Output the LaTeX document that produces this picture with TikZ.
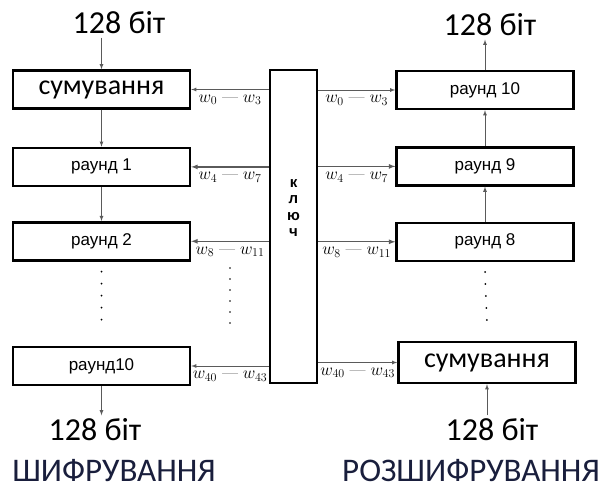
\documentclass[tikz,border=0pt]{standalone}
\usepackage{fontspec}
\usepackage{amsmath}
\usepackage{tikz}
\usetikzlibrary{arrows,positioning}
\newfontfamily\calfont{Carlito}
\newfontfamily\arfont{Liberation Sans}
\definecolor{gray40}{RGB}{90,90,90}
\definecolor{navy20}{RGB}{25,30,60}

\begin{document}
\begin{tikzpicture}[x=1pt,y=-1pt]
    \tikzstyle{blk}=[rectangle,draw,line width=2.4pt,minimum width=177pt,%
    minimum height=38pt,inner sep=0pt] %
    \tikzstyle{rnd}=[font=\arfont\fontsize{17}{17}\selectfont] %
    \tikzstyle{sum}=[font=\calfont\fontsize{28}{28}\selectfont] %
    \tikzstyle{bits}=[font=\calfont\fontsize{32}{32}\selectfont] %
    \tikzstyle{mode}=[font=\calfont\fontsize{33}{33}\selectfont,navy20] %
    \tikzstyle{flow}=[-latex,gray40,line width=0.8pt] %
    \tikzstyle{wkey}=[font=\fontsize{17}{17}\selectfont,below=4pt,midway,%
    inner sep=1pt,black] %
    \tikzstyle{dots}=[line width=2pt,dash pattern=on 0pt off 12pt,%
    line cap=round] %

    \useasboundingbox (0,0) rectangle (604,492);

    % encryption column
    \node[blk,sum] (SUM1) at (101.5,89.5) {сумування};
    \node[blk,rnd] (RND1) [below=37pt of SUM1] {раунд 1};
    \node[blk,rnd] (RND2) [below=34pt of RND1] {раунд 2};
    \node[blk,rnd] (RND10) at (101.5,366) {раунд10};

    % decryption column
    \node[blk,rnd] (DR10) at (485,90) {раунд 10};
    \node[blk,rnd] (DR9) [below=36pt of DR10] {раунд 9};
    \node[blk,rnd] (DR8) [below=35pt of DR9] {раунд 8};
    \node[blk,sum,minimum height=41pt] (DSUM) at (487,362.5) {сумування};

    % key schedule
    \node[rectangle,draw,line width=2.2pt,minimum width=47pt,%
    minimum height=313pt] (KEY) at (293.5,226.5) {};
    \node[font=\arfont\bfseries\fontsize{15}{16.5}\selectfont,align=center]
    (KEYTXT) at (293.5,208) {к\\л\\ю\\ч};

    \node[bits] (BIT1) at (119,23) {128 біт};
    \node[bits] (BIT2) at (490,25) {128 біт};
    \node[bits] (BIT3) at (95,430) {128 біт};
    \node[bits] (BIT4) at (492,430) {128 біт};

    \node[mode] (ENC) at (114,471) {ШИФРУВАННЯ};
    \node[mode] (DEC) at (471,471) {РОЗШИФРУВАННЯ};

    % data flow
    \draw[flow] (BIT1.south -| SUM1.north) -- (SUM1.north);
    \draw[flow] (SUM1.south) -- (RND1.north);
    \draw[flow] (RND1.south) -- (RND2.north);
    \draw[flow] (RND10.south) -- (RND10.south |- BIT3.north);

    \draw[flow] (BIT4.north -| DSUM.south) -- (DSUM.south);
    \draw[flow] (DR8.north) -- (DR9.south);
    \draw[flow] (DR9.north) -- (DR10.south);
    \draw[flow] (DR10.north) -- (DR10.north |- BIT2.south);

    \draw[dots] ([yshift=-10pt]RND2.south) -- ([yshift=20pt]RND10.north);
    \draw[dots] ([yshift=-10pt]DR8.south) -- ([yshift=15pt]DSUM.north);
    \draw[dots,line width=1.6pt,dash pattern=on 0pt off 11pt] (230,268) -- (230,330);

    % round keys
    \draw[flow] (KEY.west |- SUM1) -- (SUM1.east)
      node[wkey] {$w_{0}$ — $w_{3}$};
    \draw[flow,line width=1.2pt] (KEY.west |- RND1) -- (RND1.east)
      node[wkey] {$w_{4}$ — $w_{7}$};
    \draw[flow,line width=1.2pt] (KEY.west |- RND2) -- (RND2.east)
      node[wkey] {$w_{8}$ — $w_{11}$};
    \draw[flow] (KEY.west |- RND10) -- (RND10.east)
      node[wkey] {$w_{40}$ — $w_{43}$};

    \draw[flow] (KEY.east |- DR10) -- (DR10.west)
      node[wkey] {$w_{0}$ — $w_{3}$};
    \draw[flow,line width=1.2pt] (KEY.east |- DR9) -- (DR9.west)
      node[wkey] {$w_{4}$ — $w_{7}$};
    \draw[flow,line width=1.2pt] (KEY.east |- DR8) -- (DR8.west)
      node[wkey] {$w_{8}$ — $w_{11}$};
    \draw[flow] (KEY.east |- DSUM) -- (DSUM.west)
      node[wkey] {$w_{40}$ — $w_{43}$};
\end{tikzpicture}
\end{document}
